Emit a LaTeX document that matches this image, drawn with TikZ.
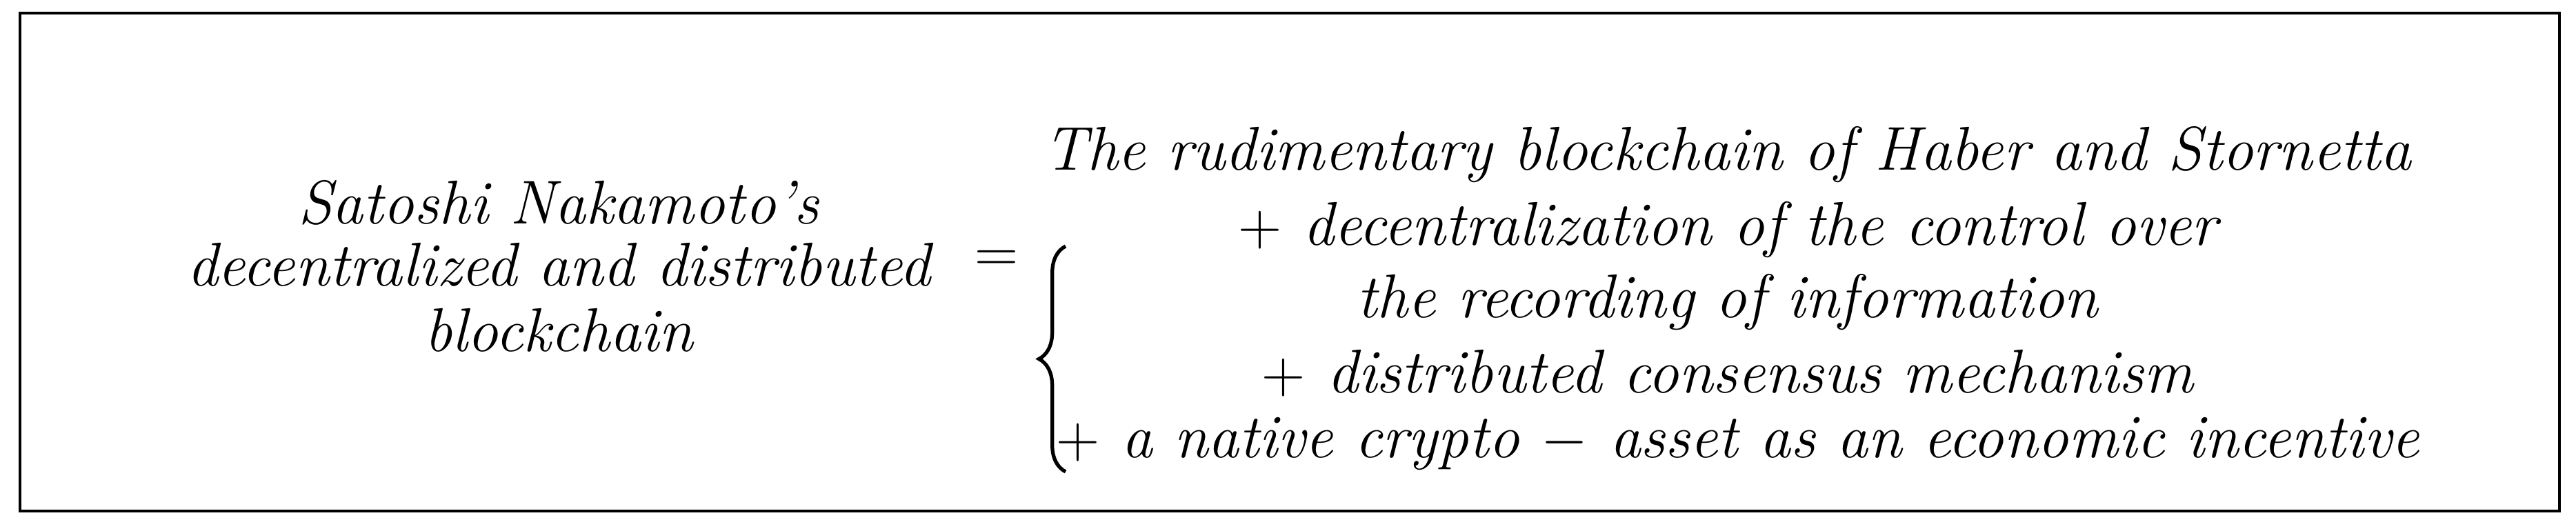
\documentclass[tikz,border=0pt]{standalone}
\usetikzlibrary{decorations.pathreplacing}
\begin{document}
\begin{tikzpicture}[txt/.style={font=\fontsize{25.5}{30}\selectfont\itshape, inner sep=0pt}]
\useasboundingbox (0,0) rectangle (37.35,7.54);
\draw[line width=1.3pt] (0.29,0.13) rectangle (37.11,7.35);
\node[txt] (l1) at (8.1,4.6) {Satoshi Nakamoto's};
\node[txt] (l2) at (8.1,3.7) {decentralized and distributed};
\node[txt] (l3) at (8.1,2.75) {blockchain};
\node[font=\fontsize{25}{30}\selectfont] (eq) at (14.45,3.75) {$=$};
\node[txt] (r1) at (25.05,5.3) {The rudimentary blockchain of Haber and Stornetta};
\node[txt] (r2) at (25.05,4.21) {$+$ decentralization of the control over};
\node[txt] (r3) at (25.05,3.16) {the recording of information};
\node[txt] (r4) at (25.05,2.13) {$+$ distributed consensus mechanism};
\node[txt] (r5) at (25.2,1.1) {$+$ a native crypto $-$ asset as an economic incentive};
\draw[line width=1.5pt, decorate, decoration={brace, amplitude=11pt}] (15.45,0.7) -- (15.45,3.97);
\end{tikzpicture}
\end{document}
